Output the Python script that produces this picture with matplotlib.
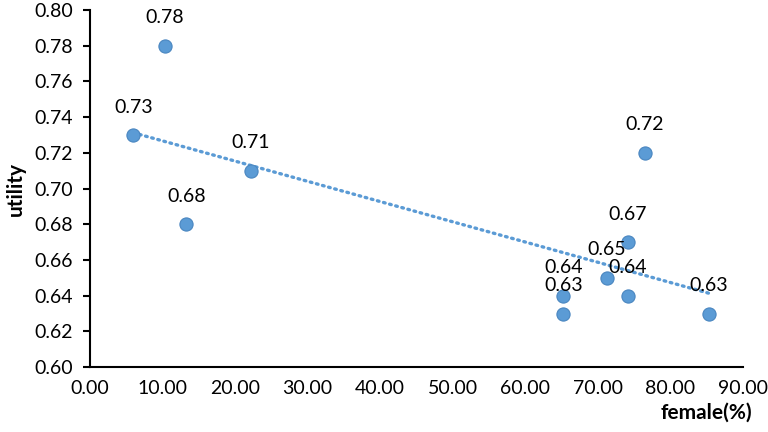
import numpy as np
import matplotlib.pyplot as plt

female = [6.0, 10.3, 13.3, 22.2, 65.3, 65.3, 71.3, 74.2, 74.2, 76.5, 85.3]
utility = [0.73, 0.78, 0.68, 0.71, 0.64, 0.63, 0.65, 0.67, 0.64, 0.72, 0.63]

blue = '#5B9BD5'

plt.rcParams['font.family'] = ['Lato', 'DejaVu Sans']

fig = plt.figure(figsize=(7.68, 4.32), dpi=100)
ax = fig.add_axes([0.117, 0.150, 0.850, 0.827])

# linear trendline over the data range (Excel style)
k, b = np.polyfit(female, utility, 1)
xs = np.array([min(female), max(female)])
ax.plot(xs, k * xs + b, color=blue, lw=2.4, linestyle=(0, (0.5, 1.4)),
        dash_capstyle='round', zorder=2)

ax.scatter(female, utility, s=90, color=blue, edgecolor='#4A86C0', lw=0.8, zorder=3)

for x, y in zip(female, utility):
    ax.annotate(f"{y:.2f}", (x, y), xytext=(0, 14), textcoords='offset points',
                ha='center', va='bottom', fontsize=14)

ax.set_xlim(0, 90)
ax.set_ylim(0.60, 0.80)
ax.set_xticks(np.arange(0, 91, 10))
ax.set_yticks(np.arange(0.60, 0.801, 0.02))
ax.xaxis.set_major_formatter(lambda v, p: f"{v:.2f}")
ax.yaxis.set_major_formatter(lambda v, p: f"{v:.2f}")
ax.tick_params(axis='x', length=0, labelsize=14, pad=9)
ax.tick_params(axis='y', length=5, width=1.5, direction='out', labelsize=14, pad=7)

for s in ['top', 'right']:
    ax.spines[s].set_visible(False)
for s in ['left', 'bottom']:
    ax.spines[s].set_linewidth(1.5)

ax.set_ylabel("utility", fontsize=15, fontweight='bold', labelpad=6)
ax.set_xlabel("female(%)", fontsize=15, fontweight='bold')
ax.xaxis.set_label_coords(1.015, -0.10)
ax.xaxis.label.set_ha('right')

fig.savefig("out.png", dpi=100)
